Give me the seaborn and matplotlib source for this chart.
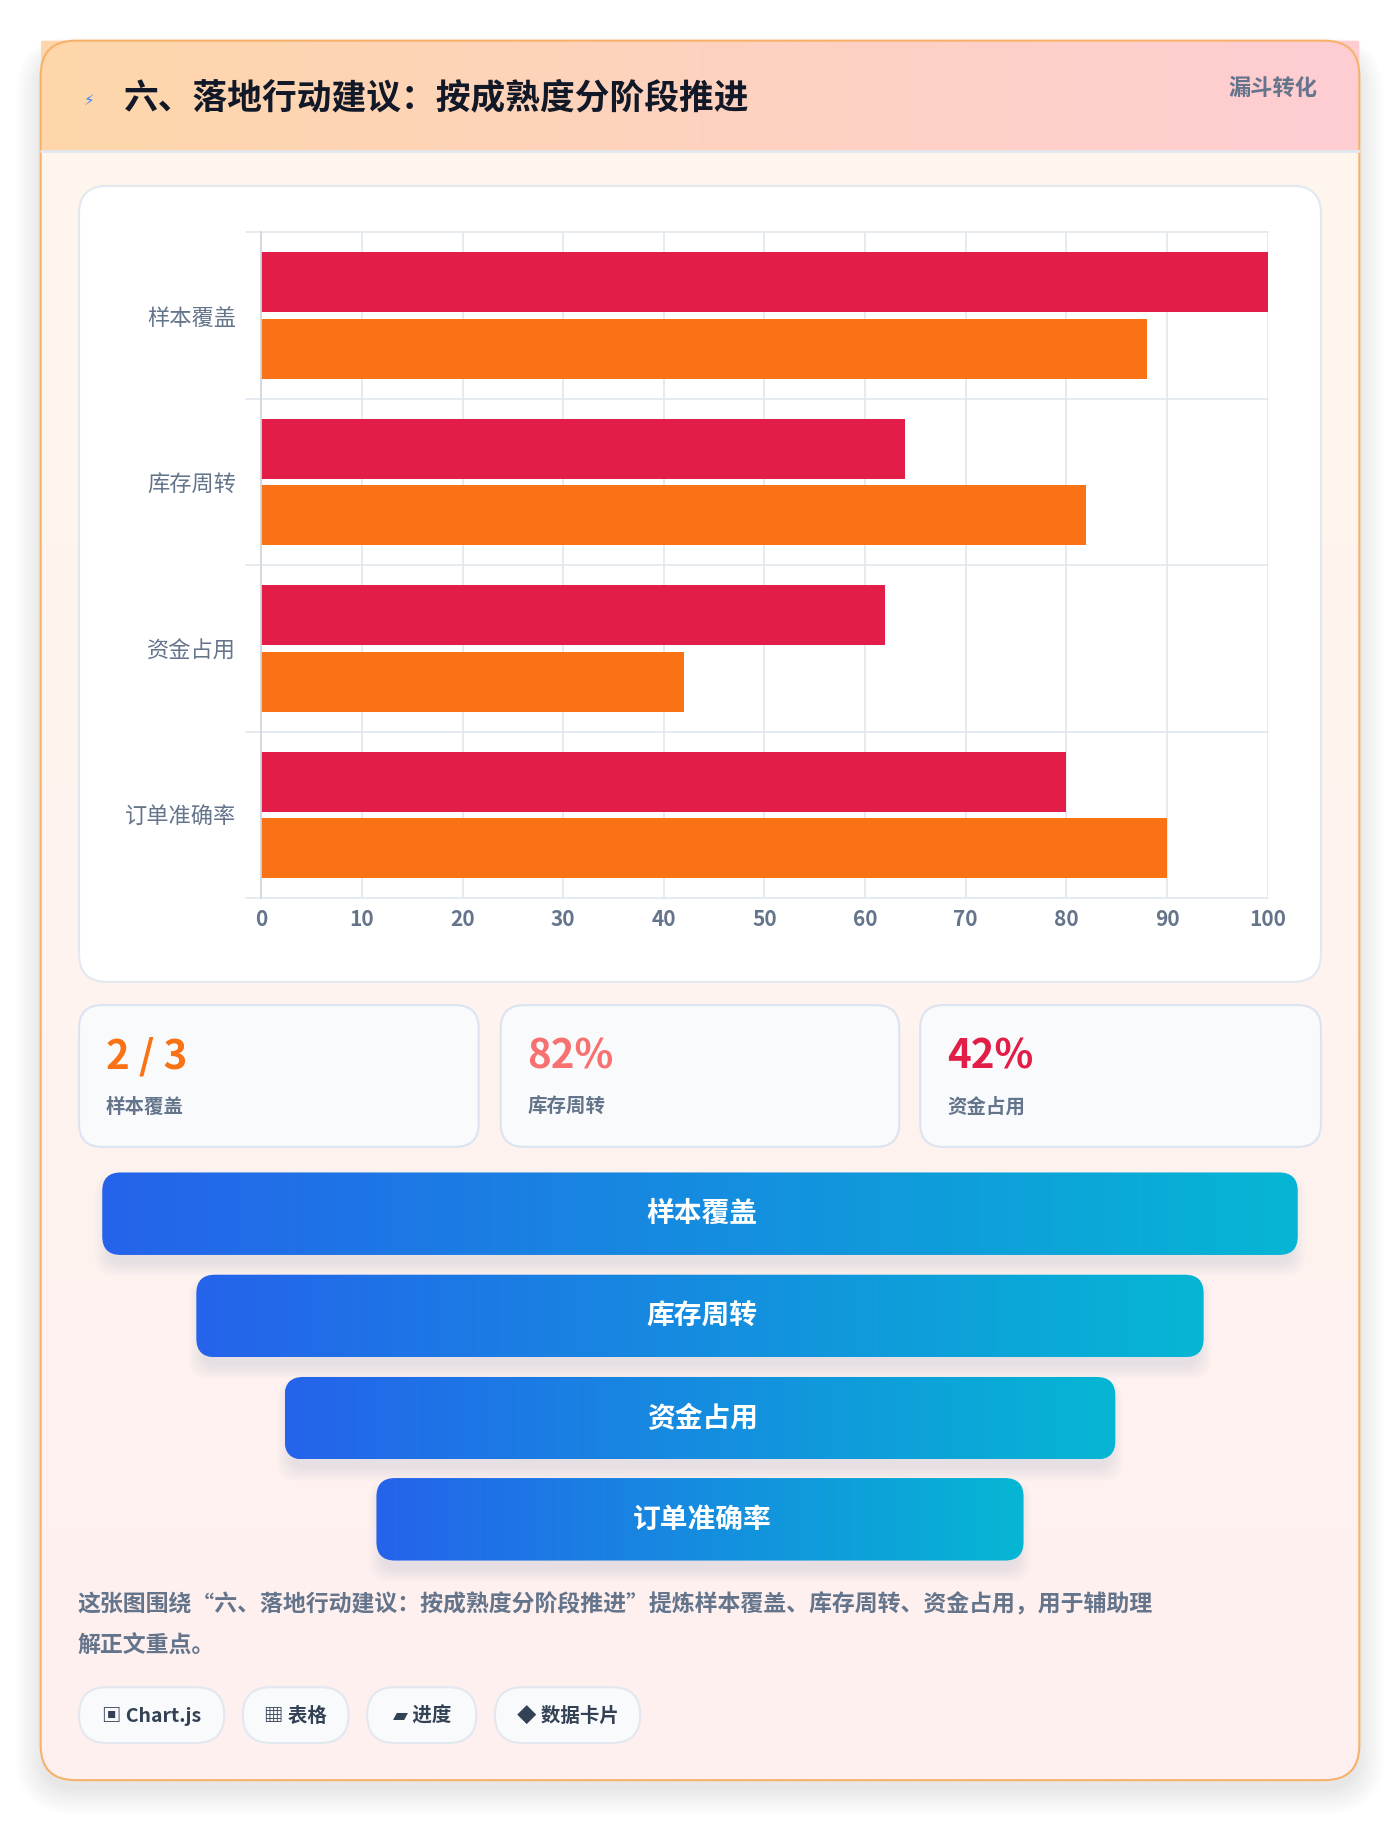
import numpy as np
import pandas as pd
import matplotlib
matplotlib.use("Agg")
import matplotlib.pyplot as plt
from matplotlib.patches import FancyBboxPatch
import seaborn as sns

categories = ["样本覆盖", "库存周转", "资金占用", "订单准确率"]
series_a = [100, 64, 62, 80]
series_b = [88, 82, 42, 90]
x_ticks = [0, 10, 20, 30, 40, 50, 60, 70, 80, 90, 100]
stat_values = ["2 / 3", "82%", "42%"]
stat_labels = ["样本覆盖", "库存周转", "资金占用"]
funnel_labels = ["样本覆盖", "库存周转", "资金占用", "订单准确率"]
chip_labels = ["▣ Chart.js", "▦ 表格", "▰ 进度", "◆ 数据卡片"]
title = "六、落地行动建议：按成熟度分阶段推进"
badge = "漏斗转化"
caption = ["这张图围绕“六、落地行动建议：按成熟度分阶段推进”提炼样本覆盖、库存周转、资金占用，用于辅助理",
           "解正文重点。"]

sns.set_theme(style="white")
FAM = ["Noto Sans CJK SC", "DejaVu Sans"]
plt.rcParams["font.family"] = FAM

W, H = 1205, 1568
fig = plt.figure(figsize=(14, 18.22), dpi=100)
fig.patch.set_facecolor("white")
bg = fig.add_axes([0, 0, 1, 1])
bg.set_xlim(0, W); bg.set_ylim(H, 0); bg.axis("off")

def rbox(x0, y0, x1, y1, r, fc, ec="none", lw=1, z=1, alpha=1):
    p = FancyBboxPatch((x0, y0), x1 - x0, y1 - y0, boxstyle=f"round,pad=0,rounding_size={r}",
                       fc=fc, ec=ec, lw=lw, zorder=z, alpha=alpha, mutation_aspect=1)
    bg.add_patch(p); return p

def grad(x0, y0, x1, y1, c0, c1, clip, z, vertical=False):
    t = np.linspace(0, 1, 256)
    a = np.array(matplotlib.colors.to_rgb(c0)); b = np.array(matplotlib.colors.to_rgb(c1))
    img = (a[None, :] * (1 - t[:, None]) + b[None, :] * t[:, None])
    img = img[:, None, :] if vertical else img[None, :, :]
    im = bg.imshow(img, extent=(x0, x1, y1, y0), aspect="auto", zorder=z, interpolation="bilinear")
    im.set_clip_path(clip)

# shadow + card
for i in range(8):
    rbox(35 - i * 3, 38 - i * 2 + 8, 1170 + i * 3, 1532 + i * 3 + 8, 30 + i * 3, "#000000", alpha=0.012, z=0)
card = rbox(35, 35, 1170, 1532, 30, "none", ec="#f6b26b", lw=1.5, z=3)
grad(35, 35, 1170, 1532, "#fff7ed", "#fef0f0", card, 1, vertical=True)
hdr_clip = rbox(35, 35, 1170, 130, 2, "none", z=2)
grad(35, 35, 1170, 130, "#fed7aa", "#fecdd3", hdr_clip, 2)
bg.plot([35, 1170], [130, 130], color="#e2e8f0", lw=2, zorder=3)
bg.text(72, 86, "⚡", fontsize=11, color="#3b82f6", va="center", zorder=4, family=["DejaVu Sans"])
bg.text(107, 84, title, fontsize=25, fontweight="bold", color="#111827", va="center", zorder=4)
bg.text(1134, 76, badge, fontsize=16, fontweight="bold", color="#64748b", va="center", ha="right", zorder=4)

# chart panel
rbox(68, 160, 1137, 845, 24, "white", ec="#e2e8f0", lw=1.5, z=3)

ax = fig.add_axes([225 / W, 1 - 773 / H, (1091 - 225) / W, (773 - 200) / H])
ax.set_zorder(5)
df = pd.DataFrame({"cat": categories * 2, "val": series_a + series_b,
                   "s": ["a"] * 4 + ["b"] * 4})
sns.barplot(data=df, y="cat", x="val", hue="s", palette=["#e11d48", "#f97316"],
            orient="h", ax=ax, legend=False, width=0.8, saturation=1)
for p in ax.patches:
    y, h = p.get_y(), p.get_height()
    c = y + h / 2
    p.set_y(c - 0.18); p.set_height(0.36); p.set_linewidth(0)
ax.set_xlim(0, 100); ax.set_ylim(3.5, -0.5)
ax.set_xticks(x_ticks)
ax.set_xticklabels([str(v) for v in x_ticks], fontsize=15, fontweight="bold", color="#64748b")
ax.set_yticklabels(categories, fontsize=16, color="#64748b")
ax.set_xlabel(""); ax.set_ylabel("")
ax.set_axisbelow(True)
for v in x_ticks:
    ax.axvline(v, color="#e2e8f0", lw=1.2, zorder=0)
for yv in [-0.5, 0.5, 1.5, 2.5, 3.5]:
    ax.plot([-1.5, 100], [yv, yv], color="#e2e8f0", lw=1.2, zorder=0, clip_on=False)
for sname, sp in ax.spines.items():
    sp.set_visible(sname == "left")
ax.spines["left"].set_color("#d1d5db")
ax.tick_params(axis="both", length=0, pad=8)
ax.tick_params(axis="y", pad=18)
ax.patch.set_alpha(0)

# stat cards
cols = ["#f97316", "#f87171", "#e11d48"]
for (x0, x1), v, l, c in zip([(68, 412), (431, 774), (792, 1137)], stat_values, stat_labels, cols):
    rbox(x0, 865, x1, 987, 20, "#f8fafc", ec="#dbe4f0", lw=1.5, z=3)
    bg.text(x0 + 23, 910, v, fontsize=29, fontweight="bold", color=c, va="center", zorder=4)
    bg.text(x0 + 23, 953, l, fontsize=14, fontweight="bold", color="#64748b", va="center", zorder=4)

# funnel
fx = [(88, 1117), (169, 1036), (245, 960), (324, 881)]
fy = [1009, 1097, 1185, 1272]
for (x0, x1), y0, lab in zip(fx, fy, funnel_labels):
    for i in range(6):
        rbox(x0 + 4 - i * 2, y0 + 8 - i, x1 - 4 + i * 2, y0 + 71 + 8 + i * 2, 16, "#1e3a8a", alpha=0.015, z=2)
    clip = rbox(x0, y0, x1, y0 + 71, 16, "none", z=3)
    grad(x0, y0, x1, y0 + 71, "#2563eb", "#06b6d4", clip, 3)
    bg.text((x0 + x1) / 2 + 2, y0 + 36, lab, fontsize=20, fontweight="bold", color="white",
            ha="center", va="center", zorder=4)

# caption
bg.text(67, 1381, caption[0], fontsize=16.5, fontweight="bold", color="#64748b", va="center", zorder=4)
bg.text(67, 1417, caption[1], fontsize=16.5, fontweight="bold", color="#64748b", va="center", zorder=4)

# chips
chip_x = [(68, 193), (209, 300), (316, 410), (426, 551)]
for (x0, x1), lab in zip(chip_x, chip_labels):
    rbox(x0, 1452, x1, 1500, 24, "#f8fafc", ec="#e2e8f0", lw=1.5, z=3)
    bg.text((x0 + x1) / 2, 1477, lab, fontsize=14, fontweight="bold", color="#334155",
            ha="center", va="center", zorder=4, family=["Noto Sans CJK SC", "DejaVu Sans"])

fig.savefig("out.png", dpi=100)
